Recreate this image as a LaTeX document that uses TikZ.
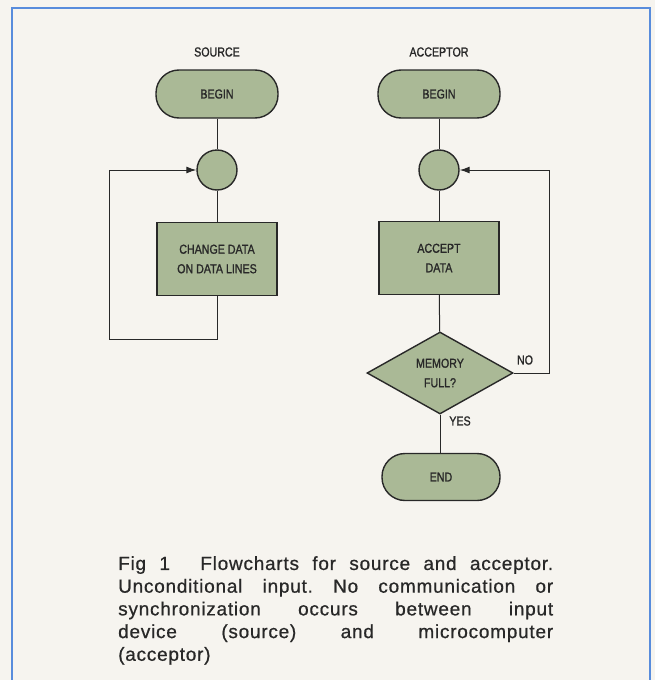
\documentclass[tikz,border=0pt]{standalone}
\usepackage{fontspec}
\setmainfont{Liberation Sans}
\newfontfamily\chartfont[FakeStretch=0.82, FakeBold=1.2]{Liberation Sans}
\newfontfamily\capfont[LetterSpace=4, FakeBold=0.7]{Liberation Sans}
\usetikzlibrary{arrows.meta, positioning, shapes.geometric}
\definecolor{sage}{RGB}{170,185,150}
\definecolor{frameblue}{RGB}{88,140,220}
\definecolor{ink}{RGB}{40,40,40}
\definecolor{paper}{RGB}{246,244,239}

\tikzset{
  chart/.style={font=\chartfont\fontsize{13}{19.5}\selectfont, text=ink},
  terminal/.style={chart, draw=ink, line width=1.4pt, fill=sage, rounded corners=23pt,
    minimum width=122pt, minimum height=48pt, inner sep=0pt},
  joint/.style={draw=ink, line width=1.4pt, fill=sage, circle, minimum size=40pt, inner sep=0pt},
  process/.style={chart, draw=ink, line width=1.4pt, fill=sage, align=center,
    minimum width=120pt, minimum height=73pt, inner sep=0pt},
  decision/.style={chart, draw=ink, line width=1.4pt, fill=sage, diamond, align=center,
    minimum width=146pt, minimum height=82pt, inner sep=0pt},
  flow/.style={draw=ink, line width=1pt},
  loopback/.style={flow, -{Latex[length=10pt, width=7pt]}}
}

\begin{document}
\begin{tikzpicture}[x=1pt, y=-1pt]
    \useasboundingbox (0,0) rectangle (655,680);
    \fill[paper] (0,0) rectangle (655,680);
    \draw[frameblue, line width=2.2pt] (12,680) -- (12,8) -- (650,8) -- (650,680);

    % source flowchart
    \node[chart] (srctitle) at (217,52) {SOURCE};
    \node[terminal] (srcbegin) at (217,94) {BEGIN};
    \node[joint] (srcjoin) at (217,170) {};
    \node[process] (srcchange) at (217,259) {CHANGE DATA\\ON DATA LINES};
    \coordinate (srcloop) at (109,339);
    \draw[flow] (srcbegin) -- (srcjoin);
    \draw[flow] (srcjoin) -- (srcchange);
    \draw[loopback] (srcchange.south) |- (srcloop) |- (srcjoin.west);

    % acceptor flowchart
    \node[chart] (acctitle) at (439,52) {ACCEPTOR};
    \node[terminal] (accbegin) at (439,94) {BEGIN};
    \node[joint] (accjoin) at (439,170) {};
    \node[process] (accdata) at (439,258) {ACCEPT\\DATA};
    \node[decision] (accfull) at (440,373) {MEMORY\\FULL?};
    \node[terminal, minimum width=118pt, minimum height=47pt] (accend) at (441,477) {END};
    \coordinate (accloop) at (549,373);
    \draw[flow] (accbegin) -- (accjoin);
    \draw[flow] (accjoin) -- (accdata);
    \draw[flow] (accdata) -- (accfull);
    \draw[flow] (accfull) -- (accfull |- accend.north);
    \draw[loopback] (accfull.east) -- (accloop) |- (accjoin.east);
    \node[chart] (nolabel) at (525,360) {NO};
    \node[chart] (yeslabel) at (460,421) {YES};

    % caption
    \node[anchor=north west, inner sep=0pt, text width=435pt, align=justify, text=ink,
      font=\capfont\fontsize{19}{22.7}\selectfont\frenchspacing] (caption) at (118,556)
      {Fig 1\hspace{1.6em}Flowcharts for source and acceptor.\linebreak
       Unconditional input. No communication or\linebreak
       synchronization occurs between input\linebreak
       device (source) and microcomputer\linebreak
       (acceptor)};
\end{tikzpicture}
\end{document}
